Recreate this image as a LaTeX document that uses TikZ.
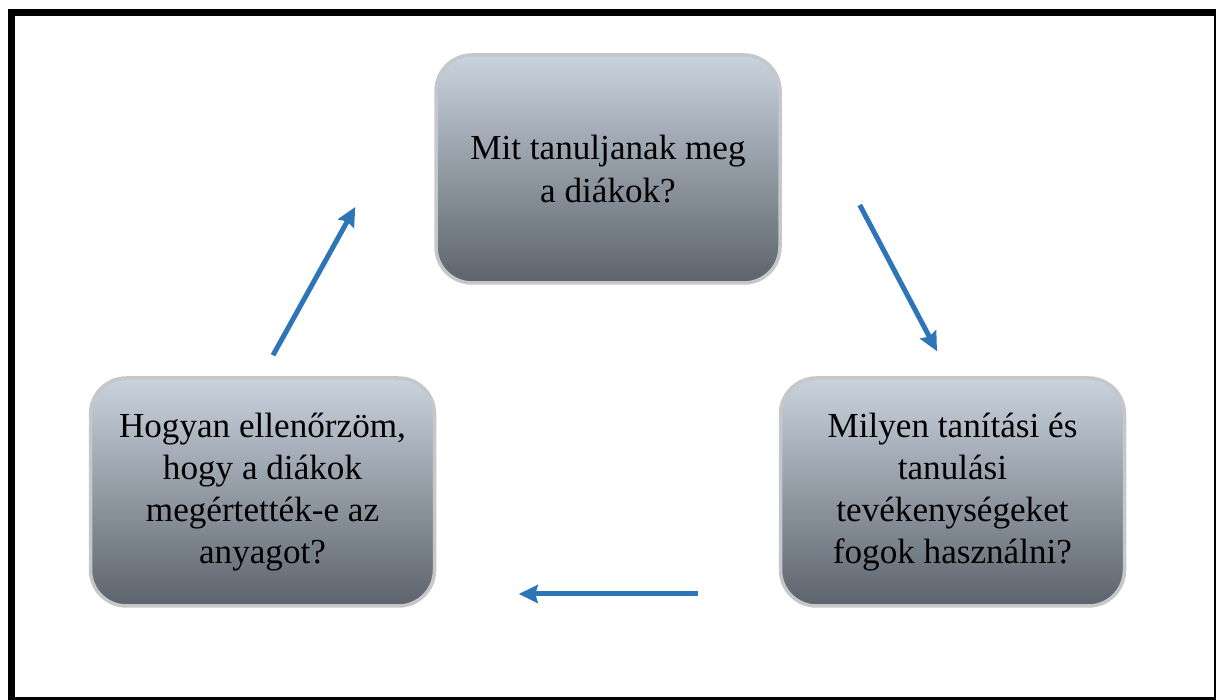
\documentclass[tikz,border=0pt]{standalone}
\usepackage{fontspec}
\setmainfont{Liberation Serif}
\usetikzlibrary{calc,arrows.meta}
\definecolor{boxtop}{RGB}{201,211,222}
\definecolor{boxmid}{RGB}{163,171,181}
\definecolor{boxbottom}{RGB}{92,99,108}
\definecolor{cycleblue}{RGB}{46,117,184}
\tikzset{
	stagebox/.style={draw=black!22, line width=0.7mm, rounded corners=0.72cm,
		top color=boxtop, middle color=boxmid, bottom color=boxbottom,
		minimum width=6.88cm, minimum height=4.56cm, align=center, inner sep=0pt,
		font=\fontsize{20}{24}\selectfont},
	cyclearrow/.style={line width=1mm, color=cycleblue,
		-{Stealth[length=0.38cm,width=0.36cm,inset=0.05cm]}}
}

\begin{document}
\begin{tikzpicture}
		%%%%% START %%%%%
		\useasboundingbox (0, 0) rectangle (24.32, 14);
		
		\draw[line width=0.14cm, color=black] (0.22, -0.02) rectangle (24.34, 13.74);
		
		\node[stagebox] (goal) at (12.16, 10.62) {Mit tanuljanak meg\\a diákok?};
		\node[stagebox] (method) at (19.05, 4.16) {Milyen tanítási és\\tanulási\\tevékenységeket\\fogok használni?};
		\node[stagebox] (check) at (5.25, 4.16) {Hogyan ellenőrzöm,\\hogy a diákok\\megértették-e az\\anyagot?};
		
		\coordinate (goalin) at ($(goal.west)+(-1.58, -0.76)$);
		\coordinate (goalout) at ($(goal.east)+(1.56, -0.72)$);
		\coordinate (methodin) at ($(method.north)+(-0.31, 0.5)$);
		\coordinate (methodout) at ($(method.west)+(-1.61, -2.04)$);
		\coordinate (checkin) at ($(check.east)+(1.65, -2.04)$);
		\coordinate (checkout) at ($(check.north)+(0.21, 0.42)$);
		
		\draw[cyclearrow] (goalout) -- (methodin);
		\draw[cyclearrow] (methodout) -- (checkin);
		\draw[cyclearrow] (checkout) -- (goalin);
		
		%%%%% END %%%%%
	\end{tikzpicture}
\end{document}
